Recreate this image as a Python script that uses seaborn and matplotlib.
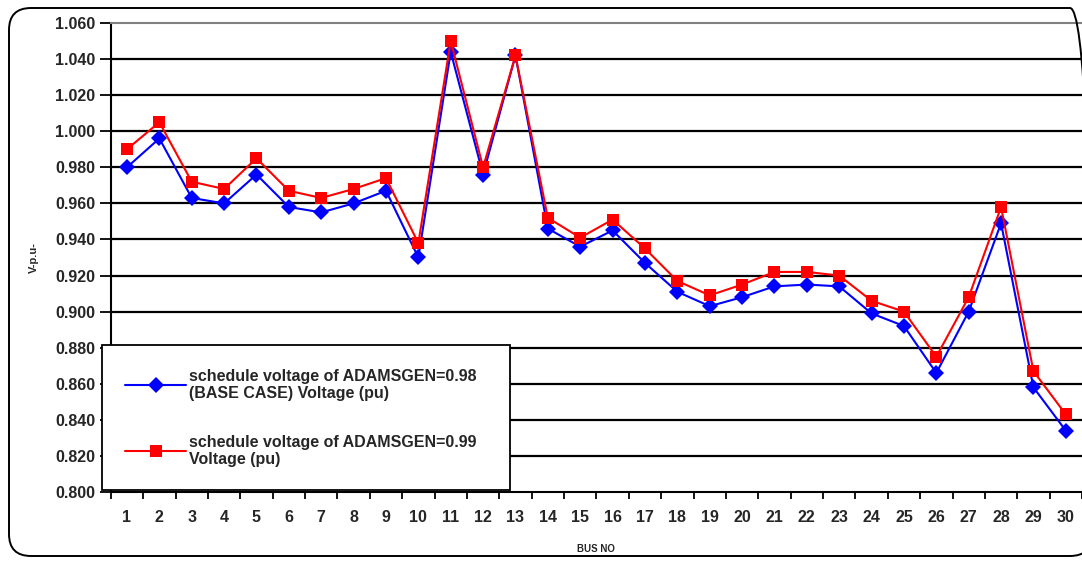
import numpy as np
import pandas as pd
import seaborn as sns
import matplotlib.pyplot as plt
from matplotlib.patches import FancyBboxPatch
from matplotlib.ticker import FormatStrFormatter, FixedLocator

# bus numbers and voltages
bus = list(range(1, 31))
v_098 = [0.980, 0.996, 0.963, 0.960, 0.976, 0.958, 0.955, 0.960, 0.967, 0.930,
         1.044, 0.976, 1.042, 0.946, 0.936, 0.945, 0.927, 0.911, 0.903, 0.908,
         0.914, 0.915, 0.914, 0.899, 0.892, 0.866, 0.900, 0.949, 0.858, 0.834]
v_099 = [0.990, 1.005, 0.972, 0.968, 0.985, 0.967, 0.963, 0.968, 0.974, 0.938,
         1.050, 0.980, 1.042, 0.952, 0.941, 0.951, 0.935, 0.917, 0.909, 0.915,
         0.922, 0.922, 0.920, 0.906, 0.900, 0.875, 0.908, 0.958, 0.867, 0.843]
yticks = [0.800, 0.820, 0.840, 0.860, 0.880, 0.900, 0.920, 0.940, 0.960, 0.980,
          1.000, 1.020, 1.040, 1.060]
lab_098 = 'schedule voltage of ADAMSGEN=0.98\n(BASE CASE) Voltage (pu)'
lab_099 = 'schedule voltage of ADAMSGEN=0.99\nVoltage (pu)'

df = pd.DataFrame({'bus': bus * 2,
                   'v': v_098 + v_099,
                   'case': [lab_098] * 30 + [lab_099] * 30})

sns.set_style('white')
plt.rcParams['font.family'] = ['Liberation Sans', 'DejaVu Sans']
plt.rcParams['font.weight'] = 'bold'

fig = plt.figure(figsize=(10.82, 5.61), dpi=100)
ax = fig.add_axes([0.1024, 0.123, 0.8976, 0.836])

# rounded frame around the whole chart (inches, so corners stay circular)
frame = FancyBboxPatch((0.09, 0.05), 10.83, 5.48,
                       boxstyle='round,pad=0,rounding_size=0.22',
                       transform=fig.dpi_scale_trans, fill=False,
                       edgecolor='black', linewidth=1.4, zorder=0)
fig.patches.append(frame)

for yv in yticks[1:-1]:
    ax.axhline(yv, color='black', linewidth=1.6, zorder=1)

sns.lineplot(data=df, x='bus', y='v', hue='case', style='case',
             palette={lab_098: '#0000ff', lab_099: '#ff0000'},
             markers={lab_098: 'D', lab_099: 's'},
             dashes=False, markersize=8, linewidth=1.5,
             markeredgewidth=0, ax=ax, zorder=3)

ax.set_xlim(0.5, 30.5)
ax.set_ylim(0.800, 1.060)
ax.set_yticks(yticks)
ax.yaxis.set_major_formatter(FormatStrFormatter('%.3f'))
ax.set_xticks(bus)
ax.xaxis.set_minor_locator(FixedLocator(np.arange(0.5, 31, 1)))
ax.tick_params(axis='x', which='major', length=0, pad=13, labelsize=11.5)
ax.tick_params(axis='x', which='minor', length=5, width=1.3, color='black', bottom=True)
ax.tick_params(axis='y', length=8, width=1.3, color='black', left=True,
               labelsize=11.5, pad=3)
for t in ax.get_xticklabels() + ax.get_yticklabels():
    t.set_fontweight('bold')

ax.spines['left'].set_color('black')
ax.spines['left'].set_linewidth(1.5)
ax.spines['bottom'].set_color('black')
ax.spines['bottom'].set_linewidth(1.5)
ax.spines['top'].set_color('#808080')
ax.spines['top'].set_linewidth(1.5)
ax.spines['right'].set_visible(False)

ax.set_xlabel('BUS NO', fontsize=7, fontweight='bold', labelpad=14)
ax.set_ylabel('V-p.u-', fontsize=8, fontweight='bold', labelpad=12)

handles, labels = ax.get_legend_handles_labels()
leg = ax.legend(handles, labels, loc='lower left',
                bbox_to_anchor=(-0.009, 0.004, 0.42, 0.3), mode='expand',
                frameon=True, fancybox=False, edgecolor='black', framealpha=1,
                prop={'weight': 'bold', 'size': 11.5}, borderpad=1.45,
                labelspacing=2.1, handlelength=3.8, handletextpad=0.2,
                borderaxespad=0)
leg.get_frame().set_linewidth(1.3)
leg.set_zorder(5)

fig.savefig('out.png', dpi=100)
